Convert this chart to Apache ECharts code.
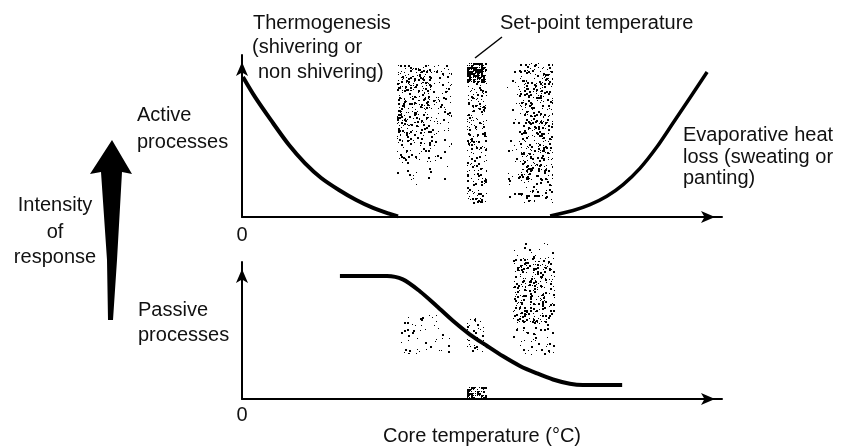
<!DOCTYPE html>
<html>
<head>
<meta charset="utf-8">
<script src="https://cdn.jsdelivr.net/npm/echarts@6/dist/echarts.min.js"></script>
<style>html,body{margin:0;padding:0;background:#fff}#c{width:844px;height:447px}</style>
</head>
<body>
<div id="c"></div>
<script>
// ---- data ----
const activeLeftX  = [0.2, 2.7, 6.0, 9.8, 13.1, 16.5, 20.2, 23.8, 27.3, 30.8, 32.5];
const activeLeftY  = [86.4, 74.1, 59.9, 44.4, 33.3, 24.1, 16.7, 10.5, 5.6, 1.9, 0.4];
const activeRightX = [64.2, 69.0, 72.5, 76.0, 79.4, 82.9, 86.5, 89.8, 93.3, 96.9];
const activeRightY = [0.6, 4.0, 7.6, 12.8, 20.0, 30.0, 43.5, 58.0, 73.5, 89.5];
const passiveX = [20.4, 30.2, 33.5, 37.1, 40.6, 44.0, 47.5, 51.0, 54.4, 57.9, 61.5, 64.8, 68.3, 71.0, 79.2];
const passiveY = [89.8, 89.8, 87.3, 78.5, 67.8, 57.0, 47.1, 38.9, 31.2, 24.2, 18.7, 14.3, 11.2, 10.2, 10.2];
// stippled bands: [xStart, xEnd, yTop, yBottom]
const topBandX0 = [32.3, 46.9, 55.2];
const topBandX1 = [43.75, 51.0, 64.8];
const topBandY0 = [93.8, 95, 95];
const topBandY1 = [15.4, 7.4, 8.6];
const botBandX0 = [32.9, 46.9, 46.9, 56.5];
const botBandX1 = [43.3, 50.4, 51.0, 65.2];
const botBandY0 = [63, 59.2, 8.9, 114];
const botBandY1 = [33.1, 33.8, 0, 32.5];
const xTickLabels = ['0'];

// ---- style: stipple density profiles (t = 0 top..1 bottom, u = 0 left..1 right) ----
const topProfiles = [
  (t,u) => 0.44 * (t < 0.4 ? 1 : Math.max(0.04, Math.pow(1 - (t - 0.4) / 0.6, 1.6))) * (u < 0.6 ? 1 : 0.5),
  (t,u) => t < 0.13 ? 0.88 : 0.36,
  (t,u) => 0.36 * (u < 0.22 ? 0.25 : 1) * (t > 0.85 ? 0.6 : 1)
];
const botProfiles = [
  (t,u) => 0.08,
  (t,u) => 0.22,
  (t,u) => 0.82,
  (t,u) => t < 0.12 ? 0.06 : (t < 0.7 ? 0.36 : 0.13)
];
function hash(i, j, s) {
  let h = Math.imul(i + 1, 73856093) ^ Math.imul(j + 1, 19349663) ^ Math.imul(s + 1, 83492791);
  h = Math.imul(h ^ (h >>> 16), 0x85ebca6b);
  h = Math.imul(h ^ (h >>> 13), 0xc2b2ae35);
  h ^= h >>> 16;
  return (h >>> 0) / 4294967296;
}
const cache = {};
function stipple(key, w, h, prof, seed) {
  w = Math.max(1, Math.round(w)); h = Math.max(1, Math.round(h));
  const k = key + '_' + w + '_' + h;
  if (cache[k]) return cache[k];
  const cv = document.createElement('canvas');
  cv.width = w; cv.height = h;
  const ctx = cv.getContext('2d');
  ctx.fillStyle = '#000';
  for (let y = 0; y < h; y += 2) {
    for (let x = 0; x < w; x += 2) {
      const d = prof(y / h, x / w);
      if (hash(x, y, seed) < d) {
        const r = hash(y, x, seed + 7);
        if (d > 0.8) { ctx.fillRect(x, y, r < 0.55 ? 2 : 1, r < 0.55 ? 2 : 1); continue; }
        const ox = r < 0.5 ? 0 : 1, oy = (r * 4) % 1 < 0.5 ? 0 : 1;
        const s = (r * 16) % 1 < 0.45 ? 2 : 1;
        ctx.fillRect(x + ox, y + oy, s, s);
      }
    }
  }
  cache[k] = cv;
  return cv;
}
function bandSeries(idx, X0, X1, Y0, Y1, profiles, seedBase) {
  const data = X0.map((v, i) => [v, X1[i], Y0[i], Y1[i], i]);
  return {
    type: 'custom', xAxisIndex: idx, yAxisIndex: idx, clip: false, silent: true, z: 1,
    data: data,
    encode: { x: [0, 1], y: [2, 3] },
    renderItem: function (params, api) {
      const p0 = api.coord([api.value(0), api.value(2)]);
      const p1 = api.coord([api.value(1), api.value(3)]);
      const i = api.value(4);
      const w = p1[0] - p0[0], h = p1[1] - p0[1];
      return {
        type: 'image',
        style: { image: stipple(seedBase + '_' + i, w, h, profiles[i], seedBase * 10 + i + 1), x: Math.round(p0[0]), y: Math.round(p0[1]), width: Math.round(w), height: Math.round(h) }
      };
    }
  };
}
const FONT = '"Liberation Sans", Arial, Helvetica, sans-serif';
const axisLine = { show: true, lineStyle: { color: '#000', width: 2 }, symbol: ['none', 'arrow'], symbolSize: [9, 14], symbolOffset: [0, -7] };
function xAx(gi, margin, name) {
  return {
    type: 'value', gridIndex: gi, min: 0, max: 100, interval: 100,
    axisLine: axisLine, axisTick: { show: false }, splitLine: { show: false },
    axisLabel: { formatter: v => v === 0 ? xTickLabels[0] : '', fontSize: 20, color: '#111', fontFamily: FONT, margin: margin },
    name: name, nameLocation: 'middle', nameGap: 14,
    nameTextStyle: { fontSize: 20, color: '#111', fontFamily: FONT }
  };
}
function yAx(gi) {
  return {
    type: 'value', gridIndex: gi, min: 0, max: 100, interval: 100,
    axisLine: axisLine, axisTick: { show: false }, splitLine: { show: false },
    axisLabel: { show: false }
  };
}
function txt(t, x, y, align) {
  return { type: 'text', x: x, y: y, z: 10, style: { text: t, font: '20px ' + FONT, fill: '#111', align: align || 'left', verticalAlign: 'middle' } };
}
const chart = echarts.init(document.getElementById('c'));
chart.setOption({
  animation: false,
  backgroundColor: '#fff',
  grid: [
    { left: 242, right: 122, top: 55, height: 162 },
    { left: 242, right: 122, top: 262, height: 157 }
  ],
  xAxis: [xAx(0, 8, ''), xAx(1, 6, 'Core temperature (°C)')],
  yAxis: [yAx(0), yAx(1)],
  series: [
    bandSeries(0, topBandX0, topBandX1, topBandY0, topBandY1, topProfiles, 1),
    bandSeries(1, botBandX0, botBandX1, botBandY0, botBandY1, botProfiles, 2),
    { type: 'line', xAxisIndex: 0, yAxisIndex: 0, smooth: 0.3, showSymbol: false, symbol: 'none', lineStyle: { color: '#000', width: 4 }, z: 5,
      data: activeLeftX.map((x, i) => [x, activeLeftY[i]]) },
    { type: 'line', xAxisIndex: 0, yAxisIndex: 0, smooth: 0.3, showSymbol: false, symbol: 'none', lineStyle: { color: '#000', width: 3.5 }, z: 5,
      data: activeRightX.map((x, i) => [x, activeRightY[i]]) },
    { type: 'line', xAxisIndex: 1, yAxisIndex: 1, smooth: 0.3, showSymbol: false, symbol: 'none', lineStyle: { color: '#000', width: 4 }, z: 5,
      data: passiveX.map((x, i) => [x, passiveY[i]]) }
  ],
  graphic: [
    txt('Thermogenesis', 253, 23),
    txt('(shivering or', 252, 47),
    txt('non shivering)', 258, 72),
    txt('Set-point temperature', 500, 23),
    txt('Active', 137, 115),
    txt('processes', 137, 142),
    txt('Evaporative heat', 683, 135),
    txt('loss (sweating or', 683, 157),
    txt('panting)', 683, 178),
    txt('Intensity', 55, 205, 'center'),
    txt('of', 55, 232, 'center'),
    txt('response', 55, 257, 'center'),
    txt('Passive', 138, 310),
    txt('processes', 138, 335),
    { type: 'line', z: 10, shape: { x1: 502, y1: 37, x2: 475, y2: 58 }, style: { stroke: '#000', lineWidth: 1.5 } },
    { type: 'polygon', z: 10, shape: { points: [[112, 140], [132, 174], [122, 172], [117, 260], [113, 320], [108, 320], [107, 260], [101, 172], [90, 174]] }, style: { fill: '#000' } }
  ]
});
</script>
</body>
</html>
